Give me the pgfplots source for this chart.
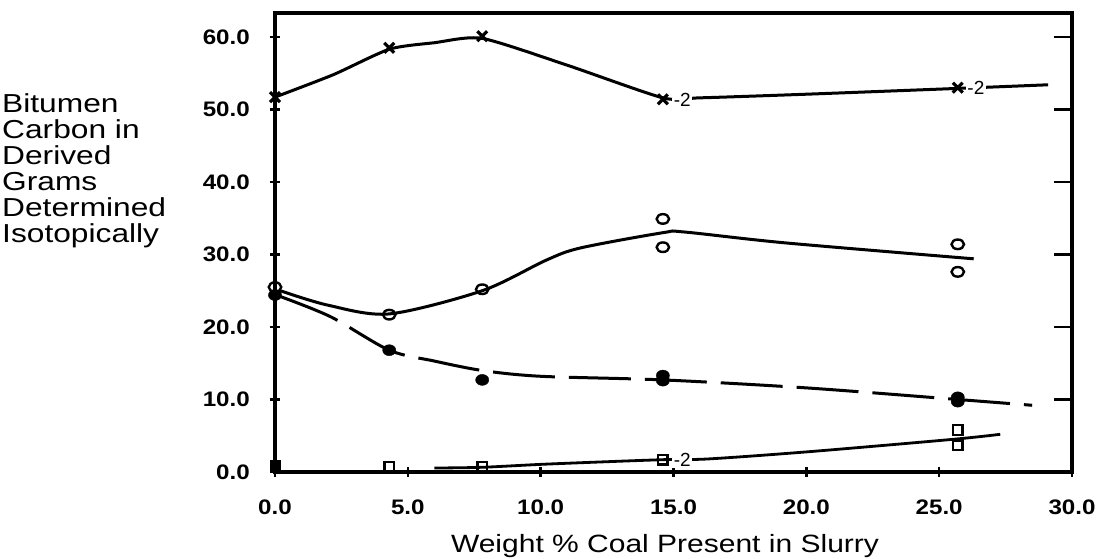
\documentclass[border=0pt]{standalone}
\usepackage{fontspec}
\setmainfont{Liberation Sans}
\newfontfamily\tickfont{Liberation Sans}[FakeStretch=1.15]
\newfontfamily\labfont{Liberation Sans}[FakeStretch=1.22]
\newfontfamily\titfont{Liberation Sans}[FakeStretch=1.2]
\usepackage{pgfplots}
\pgfplotsset{compat=1.18}

\begin{document}
\begin{tikzpicture}
\useasboundingbox (-275pt,-87pt) rectangle (830pt,472pt);
\begin{axis}[
  at={(0pt,0pt)}, anchor=south west,
  width=797pt, height=459pt, scale only axis,
  xmin=0, xmax=30, ymin=0, ymax=63.3,
  axis line style={line width=3.4pt},
  xtick={0,5,...,30}, ytick={0,10,...,60},
  xtick pos=bottom, ytick pos=left,
  tick align=center, major tick length=10pt,
  tick style={line width=2.4pt, black},
  xticklabel style={anchor=base, yshift=-38pt, inner sep=0pt, font=\tickfont\bfseries\fontsize{21}{21}\selectfont},
  yticklabel style={anchor=east, xshift=-20pt, inner sep=0pt, font=\tickfont\bfseries\fontsize{21}{21}\selectfont},
  /pgf/number format/.cd, fixed, fixed zerofill, precision=1, assume math mode=true,
  /pgfplots/.cd,
  clip=false,
]
% right-side inward ticks
\pgfplotsinvokeforeach{10,20,30,40,50,60}{\draw[line width=2.6pt] (axis cs:30,#1) -- ++(-18pt,0pt);}

% curves
\addplot[line width=3pt, smooth, tension=0.4] coordinates {(0,51.7)(2.2,54.8)(4.3,58.3)(6,59.2)(7.8,59.8)(11,56.1)(14.6,51.6)(16,51.6)(20,52.1)(25.7,52.9)(29.1,53.4)};
\addplot[line width=3pt, smooth, tension=0.5] coordinates {(0.2,25.0)(2.0,23.0)(4.3,21.8)(7.8,25.0)(10.2,29.2)(11.5,30.9)(14.6,33.0)(15.4,33.1)(19.2,31.6)(26.3,29.4)};
\addplot[line width=3pt, smooth, tension=0.5, dash pattern=on 62pt off 14pt] coordinates {(0.2,24.2)(2.1,21.4)(4.3,16.8)(6,15.3)(7.8,14.0)(10,13.2)(14.6,12.7)(20,11.6)(25.7,10.0)(28.5,9.2)};
\addplot[line width=2.8pt, smooth, tension=0.5] coordinates {(6.0,0.55)(7.8,0.65)(10.3,1.1)(14.6,1.7)(16.3,1.8)(20.1,2.8)(25.5,4.5)(27.3,5.2)};

% -2 labels
\node[anchor=west, fill=white, inner sep=1.5pt, font=\fontsize{19}{19}\selectfont] at (axis cs:14.95,51.3) {-2};
\node[anchor=west, fill=white, inner sep=1.5pt, font=\fontsize{19}{19}\selectfont] at (axis cs:26.0,53.0) {-2};
\node[anchor=west, fill=white, inner sep=1.5pt, font=\fontsize{19}{19}\selectfont] at (axis cs:14.95,1.7) {-2};

% marks
\addplot[only marks, mark=x, mark size=7pt, mark options={line width=3.2pt}] coordinates {(0,51.7)(4.3,58.5)(7.8,60.1)(14.6,51.4)(25.7,53.0)};
\addplot[only marks, mark=o, mark size=4.8pt, mark options={xscale=1.3, line width=2.4pt, fill=white}] coordinates {(0,25.5)(4.3,21.7)(7.8,25.2)(14.6,34.9)(14.6,31.0)(25.7,31.4)(25.7,27.6)};
\addplot[only marks, mark=*, mark size=5.5pt, mark options={xscale=1.2}] coordinates {(0,24.4)(4.3,16.8)(7.8,12.7)(14.6,13.3)(14.6,12.6)(25.7,10.3)(25.7,9.7)};
\addplot[only marks, mark=square, mark size=4.8pt, mark options={line width=2.4pt, fill=white}] coordinates {(4.3,0.7)(7.8,0.7)(14.6,1.7)(25.7,5.8)(25.7,3.7)};
\addplot[only marks, mark=square*, mark size=5pt] coordinates {(0,1.0)};
\end{axis}

\node[anchor=north west, align=left, inner sep=0pt, font=\labfont\fontsize{26}{26}\selectfont] at (-273pt,379pt) {Bitumen\\Carbon in\\Derived\\Grams\\Determined\\Isotopically};
\node[anchor=base, inner sep=0pt, font=\titfont\fontsize{25}{25}\selectfont] at (390pt,-80pt) {Weight \% Coal Present in Slurry};
\end{tikzpicture}
\end{document}
